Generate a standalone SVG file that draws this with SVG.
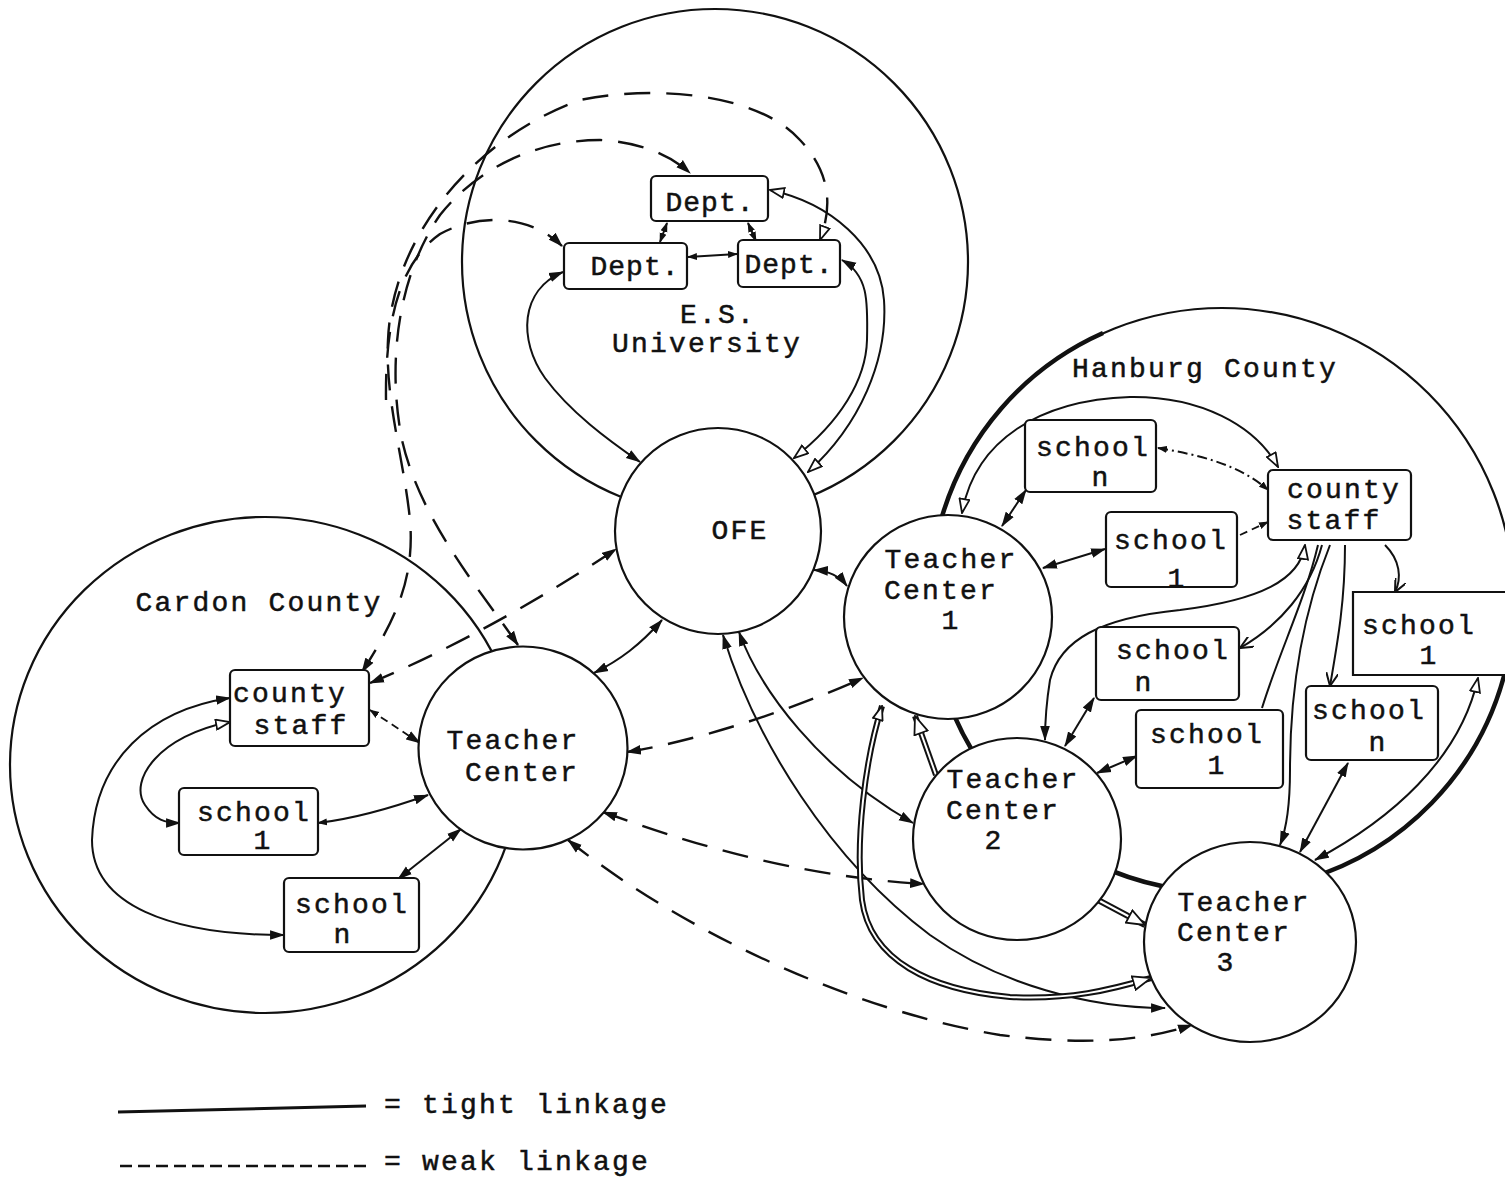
<svg xmlns="http://www.w3.org/2000/svg" width="1505" height="1178" viewBox="0 0 1505 1178">
<defs>
<style>
.bd{fill:none;stroke:#111;stroke-width:2.2}
.thk{fill:none;stroke:#111;stroke-width:4.5}
.c{fill:none;stroke:#111;stroke-width:2}
.d{fill:none;stroke:#111;stroke-width:2.4;stroke-dasharray:26 16}
.dt{fill:none;stroke:#111;stroke-width:1.8;stroke-dasharray:8 5}
.dbo{fill:none;stroke:#111;stroke-width:6}
.dbi{fill:none;stroke:#fff;stroke-width:2}
.n{fill:#fff;stroke:#111;stroke-width:2.2}
text{font-family:'Liberation Mono','Courier New',monospace;font-size:28px;fill:#111;stroke:#111;stroke-width:0.5;letter-spacing:2.2px;text-anchor:middle}
.dp{letter-spacing:1px}
.lg{text-anchor:start}
</style>
<marker id="a" viewBox="0 0 14 10" refX="13" refY="5" markerWidth="15" markerHeight="11" markerUnits="userSpaceOnUse" orient="auto-start-reverse"><path d="M0,0.5 L14,5 L0,9.5 z" fill="#111"/></marker>
<marker id="s" viewBox="0 0 10 8" refX="9" refY="4" markerWidth="10" markerHeight="8" markerUnits="userSpaceOnUse" orient="auto-start-reverse"><path d="M0,0.5 L10,4 L0,7.5 z" fill="#111"/></marker>
<marker id="o" viewBox="0 0 16 12" refX="15" refY="6" markerWidth="16" markerHeight="12" markerUnits="userSpaceOnUse" orient="auto-start-reverse"><path d="M1,1 L15,6 L1,11 z" fill="#fff" stroke="#111" stroke-width="1.8"/></marker>
<marker id="v" viewBox="0 0 14 12" refX="13" refY="6" markerWidth="14" markerHeight="12" markerUnits="userSpaceOnUse" orient="auto-start-reverse"><path d="M0,0 L13,6 L0,12" fill="none" stroke="#111" stroke-width="2"/></marker>
<marker id="h" viewBox="0 0 20 16" refX="19" refY="8" markerWidth="20" markerHeight="16" markerUnits="userSpaceOnUse" orient="auto-start-reverse"><path d="M1,1 L19,8 L1,15 z" fill="#fff" stroke="#111" stroke-width="1.8"/></marker>
</defs>
<rect width="1505" height="1178" fill="#fff"/>

<g id="es-university">
<circle cx="715" cy="262" r="253" class="bd"/>
<text x="718" y="323">E.S.</text>
<text x="707" y="352">University</text>
</g>
<g id="cardon-county">
<ellipse cx="265" cy="765" rx="255" ry="248" class="bd"/>
<text x="259" y="611">Cardon County</text>
</g>
<g id="hanburg-county">
<circle cx="1222" cy="600" r="292" class="bd"/>
<path class="thk" d="M 941 520 A 292 292 0 0 1 1103 333"/>
<path class="thk" d="M 948 700 A 292 292 0 0 0 983 767"/>
<path class="thk" d="M 1067 848 A 292 292 0 0 0 1196 891"/>
<path class="thk" d="M 1307 879 A 292 292 0 0 0 1504 676"/>
<text x="1205" y="377">Hanburg County</text>
</g>

<g id="connectors">
<path class="c" d="M 563 272 C 520 290, 518 340, 545 378 C 570 412, 608 440, 640 462" marker-start="url(#a)" marker-end="url(#a)"/>
<path class="c" d="M 770 190 C 830 203, 880 245, 884 300 C 888 360, 860 425, 808 472" marker-start="url(#o)" marker-end="url(#o)"/>
<path class="c" d="M 842 260 C 868 275, 868 300, 867 340 C 866 380, 840 422, 794 458" marker-start="url(#a)" marker-end="url(#o)"/>
<path class="c" d="M 667 223 L 660 242" marker-start="url(#s)" marker-end="url(#s)"/>
<path class="c" d="M 748 223 L 756 241" marker-start="url(#s)" marker-end="url(#s)"/>
<path class="c" d="M 688 257 L 737 254" marker-start="url(#s)" marker-end="url(#s)"/>
<path class="d" d="M 362 672 C 395 620, 415 580, 410 520 C 404 460, 385 400, 388 340 C 392 240, 470 140, 580 100 C 660 84, 760 95, 800 140 C 830 172, 833 205, 820 240" marker-start="url(#a)" marker-end="url(#o)"/>
<path class="d" d="M 518 645 C 480 590, 420 520, 402 440 C 388 370, 395 280, 440 215 C 480 165, 540 140, 600 140 C 640 142, 670 155, 690 173" marker-start="url(#a)" marker-end="url(#a)"/>
<path class="d" d="M 386 400 C 385 320, 400 262, 440 234 C 480 212, 532 216, 562 246" marker-end="url(#a)"/>
<path class="d" d="M 370 683 C 450 650, 540 600, 616 549" marker-start="url(#a)" marker-end="url(#a)"/>
<path class="dt" d="M 370 710 L 420 743" marker-start="url(#s)" marker-end="url(#a)"/>
<path class="c" d="M 230 722 C 160 735, 128 780, 145 805 C 155 820, 165 823, 180 823" marker-start="url(#o)" marker-end="url(#a)"/>
<path class="c" d="M 230 698 C 150 710, 95 760, 92 840 C 92 905, 170 935, 284 935" marker-start="url(#a)" marker-end="url(#a)"/>
<path class="c" d="M 318 823 C 360 818, 400 805, 428 795" marker-start="url(#s)" marker-end="url(#a)"/>
<path class="c" d="M 398 879 L 461 829" marker-start="url(#a)" marker-end="url(#a)"/>
<path class="c" d="M 662 620 C 640 645, 620 660, 594 673" marker-start="url(#a)" marker-end="url(#a)"/>
<path class="c" d="M 814 570 C 830 571, 841 578, 847 586" marker-start="url(#a)" marker-end="url(#a)"/>
<path class="c" d="M 723 635 C 755 740, 830 860, 930 935 C 1000 985, 1090 1008, 1165 1008" marker-start="url(#a)" marker-end="url(#a)"/>
<path class="c" d="M 739 632 C 760 690, 820 770, 913 823" marker-start="url(#a)" marker-end="url(#a)"/>
<path class="d" d="M 627 752 C 690 742, 780 715, 863 678" marker-start="url(#a)" marker-end="url(#a)"/>
<path class="d" d="M 603 812 C 680 840, 790 876, 924 884" marker-start="url(#a)" marker-end="url(#a)"/>
<path class="d" d="M 568 840 C 680 930, 850 1010, 1000 1035 C 1080 1045, 1140 1042, 1192 1025" marker-start="url(#a)" marker-end="url(#a)"/>
<path class="c" d="M 962 513 C 975 440, 1040 400, 1130 397 C 1200 396, 1255 425, 1278 467" marker-start="url(#o)" marker-end="url(#o)"/>
<path class="c" d="M 1002 526 L 1026 490" marker-start="url(#a)" marker-end="url(#a)"/>
<path class="c" d="M 1043 568 L 1105 549" marker-start="url(#a)" marker-end="url(#a)"/>
<path class="c" d="M 1158 448 C 1200 455, 1240 465, 1268 490" stroke-dasharray="10 4 2 4" marker-start="url(#s)" marker-end="url(#s)"/>
<path class="dt" d="M 1240 535 L 1268 522" marker-end="url(#s)"/>
<path class="c" d="M 1305 545 C 1300 580, 1260 600, 1180 610 C 1100 618, 1060 640, 1050 680 C 1046 705, 1045 725, 1045 740" marker-start="url(#o)" marker-end="url(#a)"/>
<path class="c" d="M 1322 545 C 1310 590, 1280 625, 1240 648" marker-end="url(#v)"/>
<path class="c" d="M 1318 545 C 1305 600, 1280 650, 1262 708"/>
<path class="c" d="M 1330 545 C 1300 620, 1290 700, 1290 770 C 1290 810, 1286 830, 1280 845" marker-end="url(#a)"/>
<path class="c" d="M 1345 545 C 1345 600, 1338 640, 1330 686" marker-end="url(#v)"/>
<path class="c" d="M 1385 545 C 1400 560, 1402 578, 1395 592" marker-end="url(#v)"/>
<path class="c" d="M 1348 763 L 1300 852" marker-start="url(#a)" marker-end="url(#a)"/>
<path class="c" d="M 1478 678 C 1460 760, 1390 820, 1315 860" marker-start="url(#o)" marker-end="url(#a)"/>
<path class="c" d="M 1094 698 L 1065 746" marker-start="url(#a)" marker-end="url(#a)"/>
<path class="c" d="M 1137 756 L 1097 773" marker-start="url(#a)" marker-end="url(#a)"/>
<path class="dbo" d="M 936 775 L 915 716"/>
<path class="dbi" d="M 936 775 L 915 716" marker-end="url(#h)"/>
<path class="dbo" d="M 882 706 C 865 760, 855 840, 862 900 C 870 960, 930 990, 1010 997 C 1070 1000, 1110 990, 1151 978"/>
<path class="dbi" d="M 882 706 C 865 760, 855 840, 862 900 C 870 960, 930 990, 1010 997 C 1070 1000, 1110 990, 1151 978" marker-start="url(#o)" marker-end="url(#h)"/>
<path class="dbo" d="M 1098 900 L 1145 925"/>
<path class="dbi" d="M 1098 900 L 1145 925" marker-end="url(#h)"/>
</g>

<g id="dept-top"><rect x="651" y="176" width="117" height="45" rx="5" class="n"/><text class="dp" x="710" y="211">Dept.</text></g>
<g id="dept-left"><rect x="564" y="243" width="123" height="46" rx="5" class="n"/><text class="dp" x="635" y="275">Dept.</text></g>
<g id="dept-right"><rect x="738" y="240" width="102" height="47" rx="5" class="n"/><text class="dp" x="789" y="273">Dept.</text></g>

<g id="ofe"><circle cx="718" cy="531" r="103" class="n"/><text x="740" y="539">OFE</text></g>

<g id="cardon-teacher-center"><ellipse cx="523" cy="748" rx="104.5" ry="101.5" class="n"/><text x="513" y="749">Teacher</text><text x="522" y="781">Center</text></g>
<g id="cardon-county-staff"><rect x="230" y="670" width="139" height="76" rx="5" class="n"/><text x="290" y="702">county</text><text x="301" y="734">staff</text></g>
<g id="cardon-school-1"><rect x="179" y="788" width="139" height="67" rx="5" class="n"/><text x="254" y="821">school</text><text x="263" y="849">1</text></g>
<g id="cardon-school-n"><rect x="284" y="878" width="135" height="74" rx="5" class="n"/><text x="352" y="913">school</text><text x="343" y="943">n</text></g>

<g id="teacher-center-1"><ellipse cx="948" cy="617" rx="104" ry="102" class="n"/><text x="951" y="568">Teacher</text><text x="941" y="599">Center</text><text x="951" y="629">1</text></g>
<g id="teacher-center-2"><ellipse cx="1017" cy="839" rx="104" ry="101" class="n"/><text x="1013" y="788">Teacher</text><text x="1003" y="819">Center</text><text x="994" y="849">2</text></g>
<g id="teacher-center-3"><ellipse cx="1250" cy="942" rx="106" ry="100" class="n"/><text x="1244" y="911">Teacher</text><text x="1234" y="941">Center</text><text x="1226" y="971">3</text></g>

<g id="hanburg-county-staff"><rect x="1268" y="470" width="143" height="70" rx="5" class="n"/><text x="1344" y="498">county</text><text x="1334" y="529">staff</text></g>
<g id="hanburg-school-n-top"><rect x="1025" y="420" width="131" height="72" rx="5" class="n"/><text x="1093" y="456">school</text><text x="1101" y="486">n</text></g>
<g id="hanburg-school-1-top"><rect x="1106" y="512" width="131" height="75" rx="5" class="n"/><text x="1171" y="549">school</text><text x="1177" y="587">1</text></g>
<g id="hanburg-school-n-mid"><rect x="1096" y="627" width="143" height="73" rx="5" class="n"/><text x="1173" y="659">school</text><text x="1144" y="691">n</text></g>
<g id="hanburg-school-1-mid"><rect x="1136" y="710" width="147" height="78" rx="5" class="n"/><text x="1207" y="743">school</text><text x="1217" y="774">1</text></g>
<g id="hanburg-school-1-right"><path d="M 1508 592 L 1353 592 L 1353 675 L 1508 675" class="n"/><text x="1419" y="634">school</text><text x="1429" y="664">1</text></g>
<g id="hanburg-school-n-right"><rect x="1306" y="686" width="132" height="74" rx="5" class="n"/><text x="1369" y="719">school</text><text x="1378" y="751">n</text></g>

<g id="legend">
<path d="M 118 1112 L 366 1106" stroke="#111" stroke-width="3" fill="none"/>
<text class="lg" x="384" y="1113">= tight linkage</text>
<path d="M 120 1166 L 370 1166" stroke="#111" stroke-width="2.6" fill="none" stroke-dasharray="12 6"/>
<text class="lg" x="384" y="1170">= weak linkage</text>
</g>
</svg>
